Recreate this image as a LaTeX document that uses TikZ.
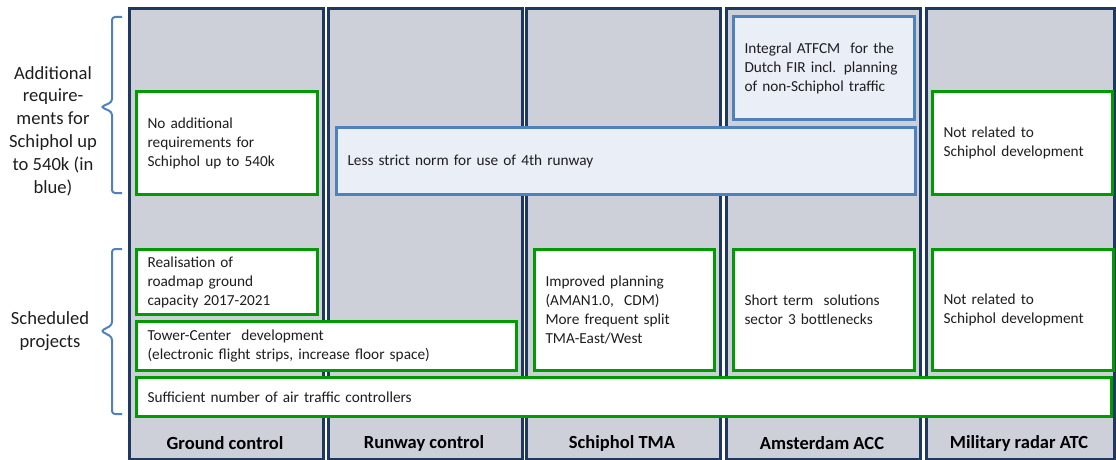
\documentclass[tikz,border=0pt]{standalone}
\usepackage{fontspec}
\setmainfont{Carlito}
\definecolor{colfill}{RGB}{205,208,217}
\definecolor{colline}{RGB}{31,56,96}
\definecolor{gline}{RGB}{0,155,0}
\definecolor{bline}{RGB}{79,129,189}
\definecolor{bfill}{RGB}{233,238,247}
\definecolor{txt}{RGB}{30,30,30}
\begin{document}
\begin{tikzpicture}[x=1pt,y=-1pt,
  col/.style={draw=colline, line width=3pt, fill=colfill, anchor=north west, minimum width=194pt, minimum height=451pt, inner sep=0pt},
  head/.style={font=\fontsize{18.5}{22}\selectfont\bfseries, text=black},
  gbox/.style={draw=gline, line width=3pt, fill=white, anchor=north west, inner xsep=11pt, inner ysep=0pt, align=left, font=\fontsize{15.3}{19}\selectfont, text=txt},
  bbox/.style={draw=bline, line width=3pt, fill=bfill, anchor=north west, inner xsep=11pt, inner ysep=0pt, align=left, font=\fontsize{15.3}{19}\selectfont, text=txt},
  side/.style={align=center, font=\fontsize{18.6}{22.8}\selectfont, text=txt},
  brace/.style={draw=bline, line width=2pt, rounded corners=3pt}
]
\useasboundingbox (0,0) rectangle (1116,460);
% columns
\node[col] (c1) at (128,7) {};
\node[col] (c2) at (327,7) {};
\node[col] (c3) at (525,7) {};
\node[col] (c4) at (725,7) {};
\node[col, minimum width=188pt] (c5) at (925,7) {};
\node[head] (h1) at (225,443) {Ground control};
\node[head] (h2) at (424,443) {Runway control};
\node[head] (h3) at (622,443) {Schiphol TMA};
\node[head] (h4) at (822,443) {Amsterdam ACC};
\node[head] (h5) at (1019,443) {Military radar ATC};
% top row
\node[gbox, minimum width=181pt, minimum height=103pt, text width=159pt] (b1) at (135,90) {No additional\\requirements for\\Schiphol up to 540k};
\node[bbox, minimum width=579pt, minimum height=67pt, text width=557pt] (b2) at (335,126) {Less strict norm for use of 4th runway};
\node[bbox, minimum width=181pt, minimum height=103pt, text width=159pt] (b3) at (732,15) {Integral ATFCM\ \ for the\\Dutch FIR incl. planning\\of non-Schiphol traffic};
\node[gbox, minimum width=180pt, minimum height=103pt, text width=158pt] (b4) at (931,90) {Not related to\\Schiphol development};
% bottom rows
\node[gbox, minimum width=181pt, minimum height=65pt, text width=159pt] (b5) at (135,248) {Realisation of\\roadmap ground\\capacity 2017-2021};
\node[gbox, minimum width=380pt, minimum height=49pt, text width=358pt] (b6) at (135,320) {Tower-Center\ \ development\\(electronic flight strips, increase floor space)};
\node[gbox, minimum width=975pt, minimum height=39pt, text width=953pt] (b7) at (135,376) {Sufficient number\ of air traffic controllers};
\node[gbox, minimum width=180pt, minimum height=121pt, text width=158pt] (b8) at (533,248) {Improved planning\\(AMAN1.0,\ \ CDM)\\More frequent split\\TMA-East/West};
\node[gbox, minimum width=181pt, minimum height=121pt, text width=159pt] (b9) at (732,248) {Short term\ \ solutions\\sector 3 bottlenecks};
\node[gbox, minimum width=181pt, minimum height=121pt, text width=159pt] (b10) at (931,248) {Not related to\\Schiphol development};
% side labels
\node[side] (s1) at (53,131) {Additional\\require-\\ments for\\Schiphol up\\to 540k (in\\blue)};
\node[side] (s2) at (50,331) {Scheduled\\projects};
% braces
\draw[brace] (122,17) -- (112,17) -- (112,102) -- (101,107) -- (112,112) -- (112,193) -- (122,193);
\draw[brace] (122,249) -- (112,249) -- (112,325) -- (101,331) -- (112,337) -- (112,414) -- (122,414);
\end{tikzpicture}
\end{document}
